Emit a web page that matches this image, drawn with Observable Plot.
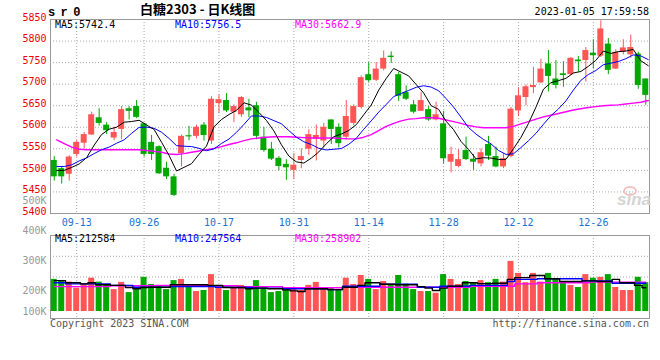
<!DOCTYPE html>
<html><head><meta charset="utf-8">
<script src="https://cdn.jsdelivr.net/npm/d3@7"></script>
<script src="https://cdn.jsdelivr.net/npm/@observablehq/plot@0.6"></script>
<style>
html,body{margin:0;padding:0;background:#fff;}
#wrap{position:relative;width:660px;height:360px;overflow:hidden;}
#wrap svg{position:absolute;left:0;}
</style></head><body><div id="wrap"></div>
<script>
// ---------------- data ----------------
const DATES = ["09-07","09-08","09-09","09-13","09-14","09-15","09-16","09-19","09-20","09-21",
"09-22","09-23","09-26","09-27","09-28","09-29","09-30","10-10","10-11","10-12",
"10-13","10-14","10-17","10-18","10-19","10-20","10-21","10-24","10-25","10-26",
"10-27","10-28","10-31","11-01","11-02","11-03","11-04","11-07","11-08","11-09",
"11-10","11-11","11-14","11-15","11-16","11-17","11-18","11-21","11-22","11-23",
"11-24","11-25","11-28","11-29","11-30","12-01","12-02","12-05","12-06","12-07",
"12-08","12-09","12-12","12-13","12-14","12-15","12-16","12-19","12-20","12-21",
"12-22","12-23","12-26","12-27","12-28","12-29","12-30","01-03","01-04","01-05"];
const OPEN = [5523,5504,5491,5537,5563,5582,5622,5605,5575,5595,
5643,5648,5608,5565,5555,5505,5485,5539,5581,5579,
5605,5568,5655,5662,5635,5629,5645,5650,5577,5549,
5528,5514,5500,5523,5549,5572,5568,5617,5600,5577,
5609,5646,5722,5709,5735,5765,5722,5681,5652,5637,
5641,5617,5608,5519,5509,5546,5526,5515,5560,5532,
5508,5532,5638,5669,5692,5703,5747,5712,5724,5722,
5756,5755,5772,5765,5793,5735,5774,5768,5770,5712];
const HIGH = [5532,5508,5534,5569,5588,5635,5643,5611,5600,5648,
5648,5662,5609,5581,5557,5519,5491,5582,5602,5605,
5611,5671,5675,5678,5652,5671,5665,5658,5600,5565,
5532,5525,5539,5550,5594,5605,5609,5617,5608,5662,
5652,5719,5750,5750,5777,5775,5727,5696,5662,5681,
5648,5658,5637,5554,5548,5577,5537,5550,5579,5554,
5539,5646,5692,5698,5739,5758,5778,5755,5752,5762,
5764,5785,5803,5847,5806,5780,5803,5814,5774,5712];
const LOW = [5475,5468,5475,5531,5550,5582,5603,5583,5569,5571,
5617,5620,5531,5523,5491,5479,5439,5508,5569,5573,
5568,5560,5632,5634,5611,5623,5622,5571,5542,5523,
5499,5477,5479,5504,5535,5522,5552,5560,5552,5571,
5604,5642,5704,5706,5731,5748,5660,5662,5631,5637,
5614,5615,5515,5494,5506,5523,5500,5508,5523,5506,
5504,5529,5625,5650,5678,5701,5682,5689,5693,5720,
5728,5705,5735,5762,5722,5734,5768,5760,5688,5651];
const CLOSE = [5485,5485,5531,5565,5583,5629,5609,5592,5588,5641,
5637,5623,5537,5537,5492,5485,5442,5579,5580,5600,
5581,5665,5664,5638,5648,5669,5638,5579,5546,5526,
5509,5506,5512,5532,5583,5581,5600,5595,5562,5625,
5648,5715,5708,5735,5760,5764,5672,5665,5635,5662,
5617,5629,5527,5537,5525,5525,5519,5541,5533,5508,
5527,5642,5673,5694,5697,5735,5718,5697,5720,5760,
5752,5778,5766,5828,5732,5774,5784,5785,5697,5674];
const MA5 = [5500,5500,5507,5515,5529.8,5558.6,5583.4,5595.6,5600.2,5611.8,
5613.4,5616.2,5605.2,5595,5565.2,5534.8,5498.6,5507,5515.6,5537.2,
5556.4,5601,5618,5629.6,5639.2,5656.8,5651.4,5634.4,5616,5591.6,
5559.6,5533.2,5519.8,5517,5528.4,5542.8,5561.6,5578.2,5584.2,5592.6,
5606,5629,5651.6,5686.2,5713.2,5736.4,5727.8,5719.2,5699.2,5679.6,
5650.2,5641.6,5614,5594.4,5567,5548.6,5526.6,5529.4,5528.6,5525.2,
5525.6,5550.2,5576.6,5608.8,5646.6,5688.2,5703.4,5708.2,5713.4,5726,
5729.4,5741.4,5755.2,5776.8,5771.2,5775.6,5776.8,5780.6,5754.4,5742.8];
const MA10 = [5509,5509,5513,5522,5529,5539,5548,5554,5563,5570.8,
5586,5599.8,5600.4,5597.6,5588.5,5574.1,5557.4,5556.1,5555.3,5551.2,
5545.6,5549.8,5562.5,5572.6,5588.2,5606.6,5626.2,5626.2,5622.8,5615.4,
5608.2,5592.3,5577.1,5566.5,5560,5551.2,5547.4,5549,5550.6,5560.5,
5574.4,5595.3,5614.9,5635.2,5652.9,5671.2,5678.4,5685.4,5692.7,5696.4,
5693.3,5684.7,5666.6,5646.8,5623.3,5599.4,5584.1,5571.7,5561.5,5546.1,
5537.1,5538.4,5553,5568.7,5585.9,5606.9,5626.8,5642.4,5661.1,5686.3,
5708.8,5722.4,5731.7,5745.1,5748.6,5752.5,5759.1,5767.9,5765.6,5757];
const MA30 = [5571,5562,5554,5549,5548,5548,5548,5548,5548,5548,
5548,5548,5546,5544,5542,5538,5537,5539,5542,5545,
5548,5551,5555,5560,5564,5569,5573,5575,5577,5578,
5578,5578,5577,5576,5575,5575,5575,5575,5574,5573,
5573,5577,5583,5592,5602,5609,5615,5619,5620,5622,
5622,5621,5617,5613,5609,5604,5601,5599,5599,5599,
5599,5602,5608,5613,5619,5624,5628,5632,5636,5640,
5643,5646,5648,5650,5651,5652,5654,5656,5658,5662];
const VOLUME = [237000,230000,228000,208000,219000,241000,228000,219000,203000,227000,
190000,203000,244000,220000,213000,203000,233000,237000,219000,195000,
200000,253000,213000,200000,211000,217000,208000,233000,208000,190000,
195000,202000,209000,200000,217000,227000,210000,210000,202000,241000,
220000,250000,237000,203000,230000,217000,250000,221000,203000,195000,
195000,187000,253000,237000,220000,230000,226000,233000,226000,237000,
228000,297000,257000,226000,257000,228000,257000,237000,226000,217000,
210000,253000,241000,244000,253000,210000,200000,200000,244000,226000];
const VMA5 = [233000,233000,226000,226000,222000,226000,219000,219000,217000,217000,
210000,206000,210000,211000,211000,211000,219000,219000,219000,219000,
219000,217000,217000,210000,210000,210000,206000,208000,208000,206000,
206000,202000,198000,195000,206000,206000,206000,203000,203000,211000,
211000,217000,226000,226000,221000,221000,219000,219000,219000,213000,
208000,200000,208000,214000,214000,226000,226000,223000,223000,224000,
224000,237000,243000,243000,250000,250000,239000,239000,230000,230000,
230000,232000,232000,230000,230000,237000,226000,226000,217000,209000];
const VMA10 = [226000,226000,222000,222000,222000,222000,222000,222000,217000,217000,
217000,211000,211000,211000,211000,211000,213000,213000,213000,213000,
213000,213000,211000,211000,210000,210000,210000,208000,208000,208000,
208000,206000,206000,206000,206000,206000,206000,203000,203000,214000,
214000,214000,214000,214000,221000,221000,221000,221000,221000,211000,
211000,211000,214000,214000,214000,214000,217000,217000,217000,217000,
217000,230000,237000,237000,237000,239000,239000,239000,239000,239000,
239000,232000,232000,232000,232000,224000,224000,224000,224000,224000];
const VMA30 = [213000,213000,213000,213000,213000,213000,213000,213000,216000,216000,
216000,216000,216000,216000,217000,217000,217000,217000,217000,216000,
216000,216000,216000,216000,216000,213000,213000,213000,213000,213000,
213000,209000,209000,209000,209000,209000,209000,209000,209000,211000,
211000,211000,211000,211000,211000,211000,211000,211000,211000,211000,
211000,211000,211000,211000,211000,211000,214000,214000,214000,214000,
214000,214000,222000,222000,222000,226000,226000,226000,226000,226000,
226000,226000,228000,228000,228000,228000,228000,228000,228000,228000];
const TICK_DATES = ["09-13","09-26","10-17","10-31","11-14","11-28","12-12","12-26"];
const PRICE_TICKS = [5400,5450,5500,5550,5600,5650,5700,5750,5800,5850];
const VOL_TICKS = [100000,200000,300000,400000,500000];
const VOL_GRID = [245000,314000];
const VOL_BASE = 100000;
const PRICE_MA_LABELS = ["MA5:5742.4","MA10:5756.5","MA30:5662.9"];
const VOL_MA_LABELS = ["MA5:212584","MA10:247564","MA30:258902"];
const MA_COLORS = ["#000000","#0000ff","#ff00ff"];
const TITLE = "白糖2303 - 日K线图";
const CODE = "sr0";
const STAMP = "2023-01-05 17:59:58";
const COPYRIGHT = "Copyright 2023 SINA.COM";
const URL_TEXT = "http://finance.sina.com.cn";

// ---------------- build ----------------
const UP = "#ff5555", DOWN = "#00a800";
const candles = DATES.map((d, i) => ({i, date: d, open: OPEN[i], high: HIGH[i], low: LOW[i], close: CLOSE[i], volume: VOLUME[i], up: CLOSE[i] >= OPEN[i]}));
const tickIdx = TICK_DATES.map(t => DATES.indexOf(t));
const xDomain = [-0.5, DATES.length - 0.5];
const baseStyle = {background: "transparent", fontFamily: "DejaVu Sans Mono", fontSize: "10px", overflow: "visible"};
const dotted = {stroke: "#aaaaaa", strokeOpacity: 1, strokeDasharray: "1,2"};
const W = 0.4;

const price = Plot.plot({
  width: 660, height: 232, marginLeft: 50, marginRight: 11, marginTop: 19, marginBottom: 19,
  style: baseStyle,
  x: {type: "linear", domain: xDomain},
  y: {type: "linear", domain: [5400, 5850]},
  marks: [
    Plot.gridY(PRICE_TICKS.slice(1, -1), dotted),
    Plot.gridX(tickIdx, dotted),
    Plot.frame({stroke: "#999999"}),
    Plot.axisY(PRICE_TICKS, {tickSize: 0, tickPadding: 4, fill: "#ee0000", dy: -2, label: null, tickFormat: d => String(d)}),
    Plot.axisX(tickIdx, {tickSize: 0, tickPadding: 5, fill: "#1a73d0", label: null, tickFormat: i => DATES[i]}),
    Plot.ruleX(candles, {filter: d => d.up, x: "i", y1: "low", y2: "high", stroke: UP}),
    Plot.ruleX(candles, {filter: d => !d.up, x: "i", y1: "low", y2: "high", stroke: DOWN}),
    Plot.rect(candles, {filter: d => d.up, x1: d => d.i - W, x2: d => d.i + W, y1: "open", y2: "close", fill: UP}),
    Plot.rect(candles, {filter: d => !d.up, x1: d => d.i - W, x2: d => d.i + W, y1: "open", y2: "close", fill: DOWN}),
    Plot.ruleY(candles, {filter: d => Math.abs(d.open - d.close) < 3, y: "close", x1: d => d.i - W, x2: d => d.i + W, stroke: d => d.up ? UP : DOWN}),
    Plot.lineY(MA30, {x: (d, i) => i, y: d => d, stroke: MA_COLORS[2], strokeWidth: 1.4, dx: 2.5}),
    Plot.lineY(MA10, {x: (d, i) => i, y: d => d, stroke: MA_COLORS[1], strokeWidth: 1, dx: 2.5}),
    Plot.lineY(MA5, {x: (d, i) => i, y: d => d, stroke: MA_COLORS[0], strokeWidth: 1, dx: 2.5})
  ]
});
price.style.top = "0px";

const vol = Plot.plot({
  width: 660, height: 140, marginLeft: 50, marginRight: 11, marginTop: 45, marginBottom: 12,
  style: baseStyle,
  x: {type: "linear", domain: xDomain, axis: null},
  y: {type: "linear", domain: [100000, 200000, 500000], range: [121, 100, 10]},
  marks: [
    Plot.gridY(VOL_GRID, dotted),
    Plot.gridX(tickIdx, dotted),
    Plot.frame({stroke: "#999999"}),
    Plot.axisY(VOL_TICKS, {tickSize: 0, tickPadding: 4, fill: "#999999", label: null, tickFormat: d => (d / 1000) + "K"}),
    Plot.rect(candles, {filter: d => d.up, x1: d => d.i - W, x2: d => d.i + W, y1: () => VOL_BASE, y2: "volume", fill: UP}),
    Plot.rect(candles, {filter: d => !d.up, x1: d => d.i - W, x2: d => d.i + W, y1: () => VOL_BASE, y2: "volume", fill: DOWN}),
    Plot.lineY(VMA30, {x: (d, i) => i, y: d => d, curve: "step", stroke: MA_COLORS[2], strokeWidth: 1.4}),
    Plot.lineY(VMA10, {x: (d, i) => i, y: d => d, curve: "step", stroke: MA_COLORS[1], strokeWidth: 1.4}),
    Plot.lineY(VMA5, {x: (d, i) => i, y: d => d, curve: "step", stroke: MA_COLORS[0], strokeWidth: 1.4})
  ]
});
vol.style.top = "190px";

const wrap = document.getElementById("wrap");
wrap.appendChild(price);
wrap.appendChild(vol);

// ---------------- text overlay ----------------
const ov = d3.create("svg").attr("width", 660).attr("height", 360).style("top", "0px");
function addText(x, y, str, o = {}) {
  ov.append("text").attr("x", x).attr("y", y)
    .attr("fill", o.fill || "#000")
    .attr("text-anchor", o.anchor || "start")
    .style("font", o.font || '10px "DejaVu Sans Mono"')
    .style("letter-spacing", o.ls || null)
    .text(str);
}
addText(48, 15.5, CODE, {font: 'bold 12px "Liberation Mono"', ls: "5.4px"});
addText(140, 14, TITLE, {font: 'bold 13px "Noto Sans CJK SC"'});
addText(649, 15, STAMP, {anchor: "end"});
[55, 175, 295].forEach((x, k) => addText(x, 27.5, PRICE_MA_LABELS[k], {fill: MA_COLORS[k]}));
[55, 175, 295].forEach((x, k) => addText(x, 242, VOL_MA_LABELS[k], {fill: MA_COLORS[k]}));
addText(50, 327, COPYRIGHT, {fill: "#555"});
addText(649, 327, URL_TEXT, {fill: "#555", anchor: "end"});
// faint watermark
ov.append("ellipse").attr("cx", 630).attr("cy", 191).attr("rx", 6).attr("ry", 4).attr("fill", "none").attr("stroke", "#f2b8b8").attr("stroke-width", 1.5);
addText(617, 205, "sina", {fill: "#d4d4d4", font: 'italic bold 17px "Liberation Sans"'});
wrap.appendChild(ov.node());
</script></body></html>
